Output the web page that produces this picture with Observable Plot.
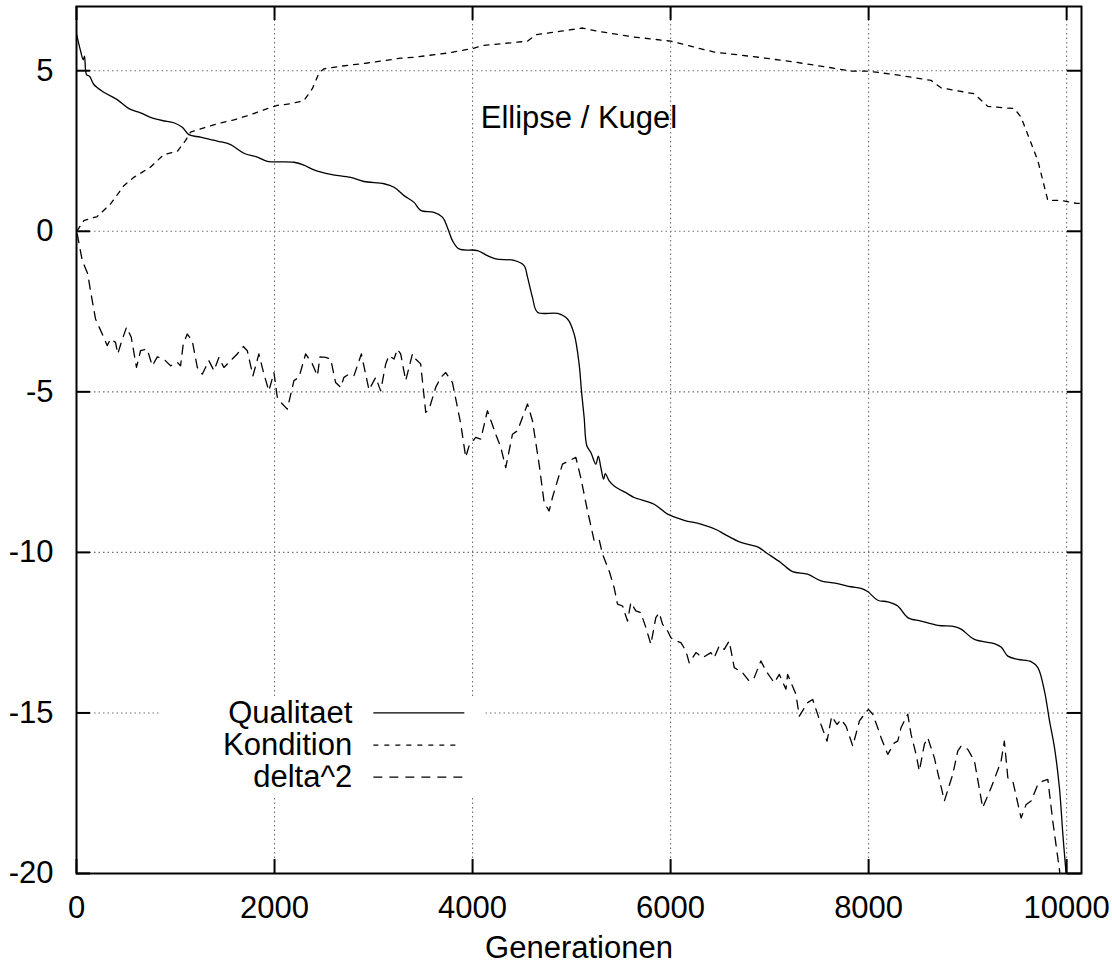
<!DOCTYPE html>
<html><head><meta charset="utf-8">
<script src="https://cdn.jsdelivr.net/npm/d3@7"></script>
<script src="https://cdn.jsdelivr.net/npm/@observablehq/plot@0.6"></script>
<style>body{margin:0;background:#fff}</style>
</head><body><div id="chart"></div>
<script>
// ---- data ----
const qualitaet = [[0,6.15],[40,5.63],[68,5.34],[81,5.45],[101,4.88],[134,4.82],[175,4.57],[276,4.33],[411,4.10],[529,3.82],[647,3.69],[748,3.55],[866,3.45],[983,3.38],[1068,3.24],[1135,3.01],[1253,2.93],[1422,2.81],[1556,2.70],[1691,2.43],[1826,2.31],[1927,2.18],[2196,2.15],[2297,2.06],[2398,1.91],[2567,1.77],[2769,1.68],[2903,1.55],[3106,1.48],[3207,1.37],[3308,1.11],[3409,0.90],[3476,0.65],[3611,0.59],[3696,0.44],[3746,0.12],[3797,-0.29],[3863,-0.55],[4050,-0.60],[4150,-0.76],[4234,-0.86],[4419,-0.91],[4520,-1.07],[4555,-1.43],[4605,-2.06],[4656,-2.52],[4858,-2.56],[4959,-2.73],[5026,-3.20],[5076,-4.13],[5100,-4.97],[5127,-5.80],[5154,-6.68],[5195,-6.89],[5245,-7.25],[5270,-7.0],[5296,-7.36],[5323,-7.72],[5340,-7.55],[5380,-7.77],[5430,-7.93],[5565,-8.17],[5632,-8.29],[5834,-8.50],[5970,-8.81],[6137,-9.00],[6306,-9.12],[6475,-9.31],[6542,-9.43],[6710,-9.69],[6879,-9.83],[6980,-10.04],[7114,-10.32],[7232,-10.60],[7384,-10.68],[7519,-10.89],[7687,-10.97],[7821,-11.07],[7922,-11.12],[7990,-11.22],[8092,-11.49],[8193,-11.54],[8294,-11.67],[8395,-12.03],[8530,-12.14],[8698,-12.27],[8866,-12.31],[8934,-12.39],[9069,-12.71],[9270,-12.84],[9338,-12.95],[9406,-13.23],[9507,-13.33],[9641,-13.40],[9709,-13.59],[9776,-14.32],[9827,-15.25],[9877,-16.08],[9927,-17.33],[9962,-18.79],[9995,-20.03],[10010,-20.6]];

const kondition = [[7,0.02],[74,0.33],[209,0.46],[344,0.85],[478,1.42],[579,1.68],[748,2.0],[882,2.39],[1018,2.49],[1102,2.83],[1152,3.09],[1253,3.19],[1422,3.35],[1590,3.47],[1758,3.63],[1927,3.82],[2028,3.92],[2163,3.97],[2297,4.07],[2382,4.44],[2449,4.93],[2499,5.06],[2668,5.14],[2938,5.24],[3274,5.39],[3409,5.42],[3746,5.55],[3999,5.69],[4116,5.79],[4555,5.92],[4639,6.12],[4891,6.23],[5111,6.33],[5262,6.23],[5632,6.05],[6003,5.92],[6441,5.58],[6912,5.41],[7249,5.27],[7587,5.11],[7822,4.99],[7990,4.99],[8260,4.88],[8630,4.70],[8731,4.47],[9068,4.28],[9203,3.89],[9472,3.82],[9540,3.55],[9709,2.20],[9810,0.96],[9944,0.96],[10096,0.87],[10150,0.87]];

const delta2 = [[7,-0.08],[58,-0.91],[114,-1.33],[141,-1.85],[192,-2.73],[260,-3.20],[310,-3.56],[344,-3.35],[394,-3.46],[417,-3.82],[452,-3.46],[505,-2.99],[553,-3.30],[606,-4.24],[647,-3.72],[714,-3.67],[765,-4.19],[816,-3.91],[882,-3.98],[950,-4.19],[1018,-4.08],[1051,-4.19],[1078,-3.51],[1119,-3.20],[1169,-3.41],[1220,-4.24],[1270,-4.45],[1337,-4.03],[1388,-4.34],[1438,-3.93],[1489,-4.24],[1556,-4.03],[1624,-3.82],[1685,-3.59],[1725,-3.72],[1782,-4.50],[1842,-3.82],[1893,-4.45],[1943,-4.97],[1994,-4.40],[2028,-5.17],[2079,-5.38],[2129,-5.54],[2196,-4.65],[2247,-4.55],[2314,-3.82],[2382,-4.13],[2433,-4.50],[2459,-3.91],[2516,-3.93],[2567,-3.98],[2617,-4.71],[2668,-4.86],[2701,-4.55],[2752,-4.45],[2802,-4.50],[2877,-3.82],[2954,-4.94],[3022,-4.55],[3072,-4.97],[3123,-4.13],[3156,-3.87],[3207,-3.98],[3241,-3.67],[3274,-3.82],[3325,-4.65],[3393,-3.82],[3426,-3.98],[3476,-4.13],[3527,-5.64],[3561,-5.54],[3628,-4.86],[3679,-4.55],[3729,-4.40],[3797,-4.71],[3881,-6.00],[3931,-7.04],[3965,-6.68],[4032,-6.42],[4083,-6.47],[4150,-5.59],[4234,-6.32],[4285,-6.73],[4335,-7.36],[4403,-6.32],[4454,-6.21],[4555,-5.38],[4605,-5.90],[4672,-7.25],[4723,-8.45],[4773,-8.71],[4807,-8.29],[4908,-7.25],[4975,-7.15],[5043,-7.04],[5093,-7.67],[5161,-8.71],[5195,-9.17],[5228,-9.64],[5278,-9.59],[5313,-10.06],[5380,-10.58],[5430,-11.10],[5464,-11.61],[5515,-11.67],[5565,-12.14],[5599,-11.56],[5649,-11.82],[5700,-11.88],[5750,-12.34],[5801,-12.86],[5851,-12.03],[5885,-11.88],[5919,-12.24],[5970,-12.45],[6003,-12.66],[6054,-12.76],[6104,-12.81],[6155,-13.07],[6188,-13.44],[6256,-13.12],[6323,-13.28],[6407,-13.12],[6441,-13.28],[6491,-12.91],[6542,-13.02],[6592,-12.76],[6643,-13.59],[6728,-13.75],[6794,-14.01],[6845,-13.90],[6912,-13.38],[6963,-13.69],[7047,-14.06],[7098,-13.80],[7165,-14.26],[7182,-13.80],[7266,-14.42],[7300,-15.10],[7384,-14.68],[7435,-14.58],[7519,-15.36],[7580,-15.88],[7627,-15.10],[7681,-15.36],[7721,-15.20],[7772,-15.41],[7840,-16.03],[7907,-15.25],[7957,-15.04],[7998,-14.89],[8042,-15.04],[8092,-15.46],[8126,-15.77],[8193,-16.29],[8260,-15.93],[8294,-15.88],[8327,-15.46],[8395,-15.04],[8429,-15.67],[8479,-16.29],[8512,-16.81],[8563,-15.98],[8597,-15.77],[8664,-16.40],[8765,-17.74],[8850,-16.91],[8900,-16.19],[8934,-16.03],[9001,-16.13],[9069,-16.50],[9152,-17.95],[9237,-17.33],[9338,-16.50],[9371,-15.88],[9406,-17.02],[9456,-17.12],[9540,-18.27],[9591,-17.85],[9641,-17.74],[9709,-17.23],[9759,-17.12],[9810,-17.07],[9860,-18.37],[9927,-19.88],[9950,-20.5]];

const seriesNames = ["Qualitaet", "Kondition", "delta^2"];
const seriesDash = ["none", "5,6", "9,7"];
const seriesCurve = ["catmull-rom", "linear", "linear"];
const xTicks = [0, 2000, 4000, 6000, 8000, 10000];
const yTicks = [-20, -15, -10, -5, 0, 5];
const chartTitle = "Ellipse / Kugel";
const xLabel = "Generationen";

// ---- layout ----
const W = 1112, H = 969, mL = 76, mR = 31, mT = 6, mB = 96;
const innerW = W - mL - mR, innerH = H - mT - mB;
const TICK = 14;
const FONT = "'Liberation Sans', Arial, Helvetica, sans-serif";
const FS = 31;
const gridStyle = {stroke: "#707070", strokeOpacity: 1, strokeWidth: 1.1, strokeDasharray: "1.5,3"};
// legend placement in data units
const legendTextX = 2785, legendLineX1 = 3003, legendLineX2 = [3922, 3845, 3922], legendRowY = [-15, -16, -17];
const legendBox = {x1: 858, x2: 4121, y1: -14.5, y2: -17.6};

const series = [qualitaet, kondition, delta2];

const chart = Plot.plot({
  width: W, height: H,
  marginLeft: mL, marginRight: mR, marginTop: mT, marginBottom: mB,
  style: {fontFamily: FONT, fontSize: FS + "px", background: "white", color: "black"},
  x: {domain: [0, 10150]},
  y: {domain: [-20, 7]},
  marks: [
    Plot.gridY(yTicks.filter(d => d > -20), gridStyle),
    Plot.gridX(xTicks.filter(d => d > 0), gridStyle),
    Plot.rect([legendBox], {x1: "x1", x2: "x2", y1: "y1", y2: "y2", fill: "white"}),
    ...series.map((s, i) => Plot.line(s, {
      x: d => d[0], y: d => d[1], stroke: "black", strokeWidth: 1.3,
      strokeDasharray: seriesDash[i], curve: seriesCurve[i], clip: true
    })),
    Plot.tickY(yTicks, {y: d => d, insetRight: innerW - TICK, strokeWidth: 2, stroke: "black"}),
    Plot.tickY(yTicks, {y: d => d, insetLeft: innerW - TICK, strokeWidth: 2, stroke: "black"}),
    Plot.tickX(xTicks, {x: d => d, insetTop: innerH - TICK, strokeWidth: 2, stroke: "black"}),
    Plot.tickX(xTicks, {x: d => d, insetBottom: innerH - TICK, strokeWidth: 2, stroke: "black"}),
    Plot.frame({stroke: "black", strokeWidth: 2}),
    Plot.axisY({ticks: yTicks, tickSize: 0, tickPadding: 23, tickFormat: d => String(d), label: null, fontSize: FS}),
    Plot.axisX({ticks: xTicks, tickSize: 0, tickPadding: 22, tickFormat: d => String(d), label: null, fontSize: FS}),
    Plot.text([chartTitle], {frameAnchor: "top", dy: 112, lineAnchor: "middle", fontSize: FS, fill: "black"}),
    Plot.text([xLabel], {frameAnchor: "bottom", dy: 75, lineAnchor: "middle", fontSize: FS, fill: "black"}),
    Plot.text(seriesNames, {x: legendTextX, y: (d, i) => legendRowY[i], textAnchor: "end", lineAnchor: "middle", fontSize: FS, fill: "black"}),
    ...seriesNames.map((n, i) => Plot.ruleY([legendRowY[i]], {
      x1: legendLineX1, x2: legendLineX2[i], stroke: "black", strokeWidth: 1.3, strokeDasharray: seriesDash[i]
    }))
  ]
});
document.getElementById("chart").appendChild(chart);
</script>
</body></html>
